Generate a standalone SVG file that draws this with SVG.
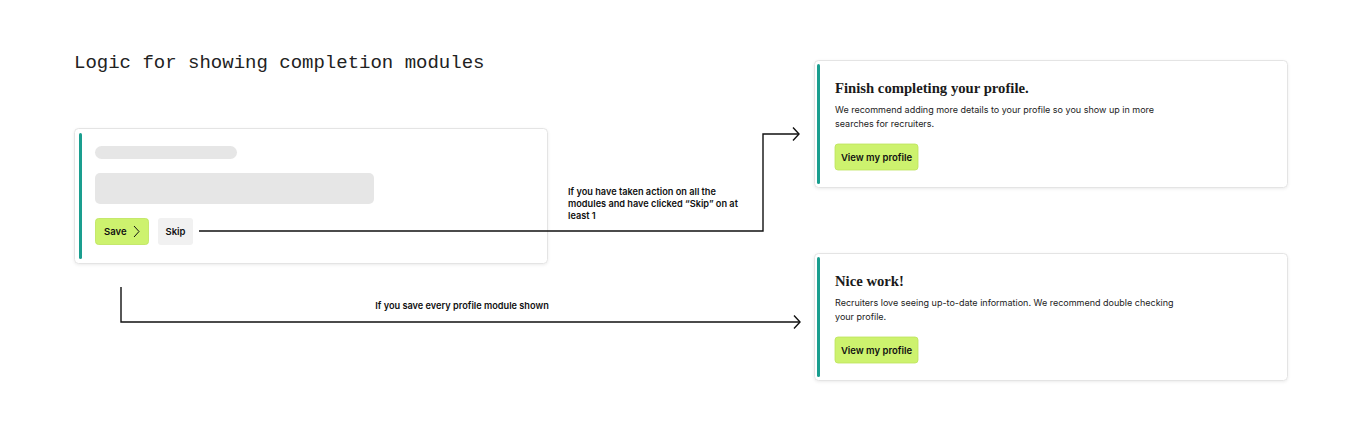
<svg xmlns="http://www.w3.org/2000/svg" width="1361" height="434" viewBox="0 0 1361 434">
<style>
.card{fill:#fff;stroke:#e4e4e4;stroke-width:1}
.bar{fill:#1a9e8f}
.ph{fill:#e6e6e6}
.btn{fill:#cdf26e;stroke:#bde35a;stroke-width:0.8}
.skip{fill:#f1f1f1}
.btxt{font-family:Inter,"Liberation Sans",sans-serif;font-size:9.5px;font-weight:600;fill:#111}
.head{font-family:"Liberation Serif",serif;font-size:14.7px;font-weight:700;fill:#1a1a1a}
.body{font-family:Inter,"Liberation Sans",sans-serif;font-size:9px;fill:#222}
.lbl{font-family:Inter,"Liberation Sans",sans-serif;font-size:9.2px;font-weight:600;fill:#111}
.title{font-family:"Liberation Mono",monospace;font-size:19px;fill:#222}
.conn{fill:none;stroke:#111;stroke-width:1.4}
</style>
<defs>
<filter id="sh" x="-5%" y="-10%" width="110%" height="125%">
<feDropShadow dx="0" dy="1" stdDeviation="1.5" flood-color="#000" flood-opacity="0.08"/>
</filter>
<marker id="arr" markerWidth="12" markerHeight="16" refX="9" refY="8" orient="auto" markerUnits="userSpaceOnUse">
<polyline points="3,1.5 9,8 3,14.5" fill="none" stroke="#111" stroke-width="1.4"/>
</marker>
</defs>
<rect width="1361" height="434" fill="#fff"/>
<text class="title" x="74" y="68">Logic for showing completion modules</text>

<g id="module">
<rect class="card" x="74.5" y="128.5" width="473" height="135" rx="4" filter="url(#sh)"/>
<rect class="bar" x="79" y="133" width="3" height="126" rx="1.5"/>
<rect class="ph" x="95" y="146" width="142" height="13" rx="6.5"/>
<rect class="ph" x="95" y="173" width="279" height="31" rx="5"/>
<rect class="btn" x="95.5" y="218.5" width="53" height="26" rx="3"/>
<text class="btxt" x="104" y="235">Save</text>
<polyline points="134,226 139,231.5 134,237" fill="none" stroke="#111" stroke-width="1"/>
<rect class="skip" x="158" y="218" width="35" height="27" rx="3"/>
<text class="btxt" x="175.5" y="235" text-anchor="middle">Skip</text>
</g>

<g id="finish">
<rect class="card" x="814.5" y="60.5" width="473" height="127" rx="4" filter="url(#sh)"/>
<rect class="bar" x="817" y="64" width="3" height="120" rx="1.5"/>
<text class="head" x="835" y="93">Finish completing your profile.</text>
<text class="body" x="835" y="113">We recommend adding more details to your profile so you show up in more</text>
<text class="body" x="835" y="127">searches for recruiters.</text>
<rect class="btn" x="835" y="144" width="83" height="26" rx="3"/>
<text class="btxt" x="876.5" y="160.5" text-anchor="middle">View my profile</text>
</g>

<g id="nice">
<rect class="card" x="814.5" y="253.5" width="473" height="127" rx="4" filter="url(#sh)"/>
<rect class="bar" x="817" y="257" width="3" height="120" rx="1.5"/>
<text class="head" x="835" y="286">Nice work!</text>
<text class="body" x="835" y="306">Recruiters love seeing up-to-date information. We recommend double checking</text>
<text class="body" x="835" y="320">your profile.</text>
<rect class="btn" x="835" y="337" width="83" height="26" rx="3"/>
<text class="btxt" x="876.5" y="353.5" text-anchor="middle">View my profile</text>
</g>

<g id="connectors">
<polyline class="conn" points="199,231 763,231 763,134 799,134" marker-end="url(#arr)"/>
<polyline class="conn" points="121,287 121,322 800,322" marker-end="url(#arr)"/>
<text class="lbl" x="568" y="195">If you have taken action on all the</text>
<text class="lbl" x="568" y="207">modules and have clicked “Skip” on at</text>
<text class="lbl" x="568" y="219">least 1</text>
<text class="lbl" x="462" y="309" text-anchor="middle">If you save every profile module shown</text>
</g>
</svg>
